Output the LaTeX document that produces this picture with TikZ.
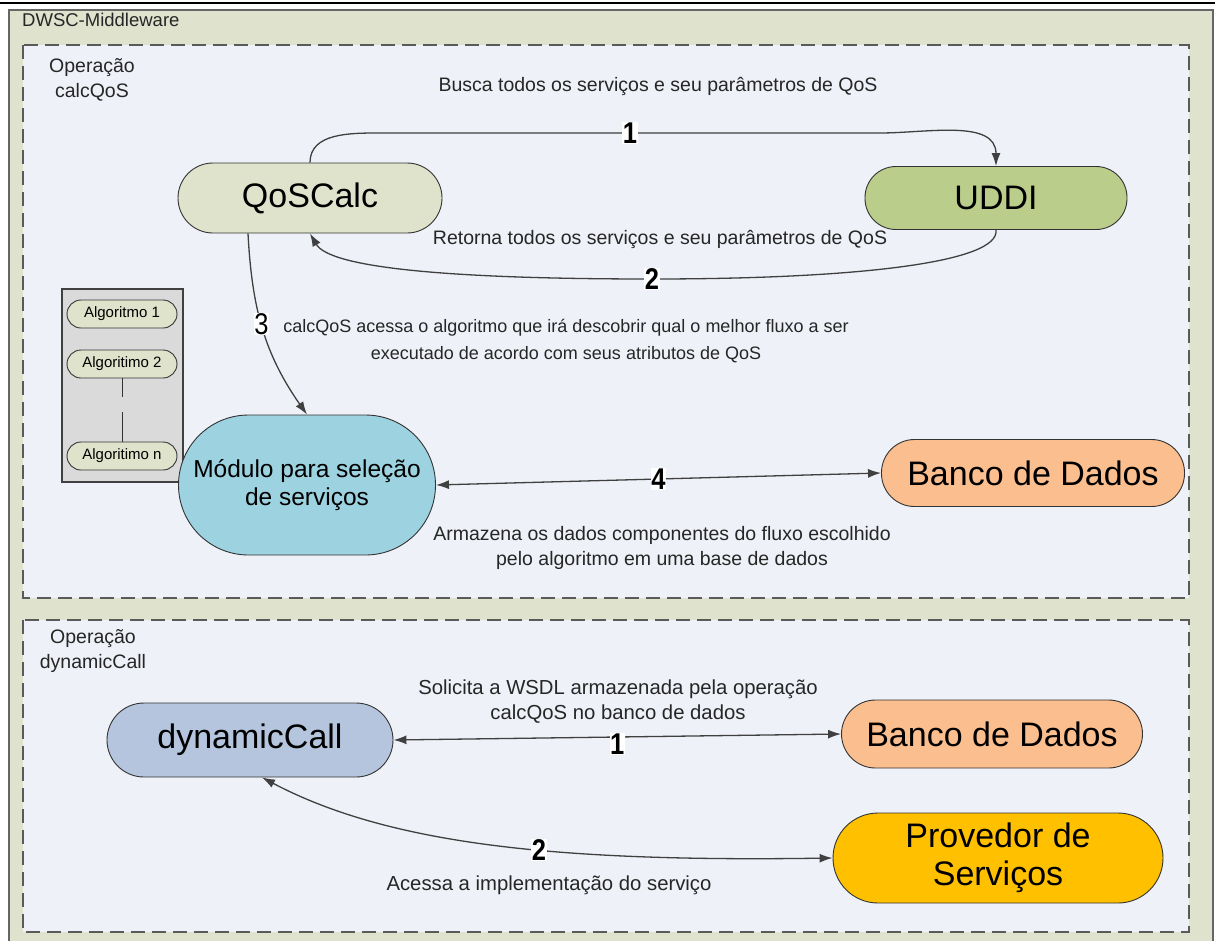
\documentclass[tikz,border=0pt]{standalone}
\usepackage{fontspec}
\setmainfont{Liberation Sans}
\usetikzlibrary{arrows.meta,calc}
\definecolor{outerc}{HTML}{DFE3CE}
\definecolor{innerc}{HTML}{EEF1F7}
\definecolor{qosc}{HTML}{DFE3CB}
\definecolor{uddic}{HTML}{BACD8B}
\definecolor{modc}{HTML}{9DD3E0}
\definecolor{bancoc}{HTML}{FBBE8E}
\definecolor{dync}{HTML}{B4C5DD}
\definecolor{provc}{HTML}{FFC000}
\definecolor{grayc}{HTML}{DADADA}
\definecolor{dashc}{HTML}{5A5A5A}
\newfontfamily\numfont[FakeStretch=0.85]{Liberation Sans}
\begin{document}
\begin{tikzpicture}[x=1pt,y=-1pt,
  pill/.style={draw=black!80, line width=0.9pt, rectangle, rounded corners=#1, inner sep=0pt, align=center},
  pill/.default=30pt,
  bigtxt/.style={font=\fontsize{34}{38}\selectfont},
  smalltxt/.style={font=\fontsize{19.5}{25}\selectfont, text=black!85, align=center, inner sep=0pt},
  dbox/.style={draw=dashc, line width=1.8pt, dash pattern=on 14pt off 7pt, fill=innerc},
  conn/.style={draw=black!75, line width=1.3pt},
  tip/.style={-{Latex[length=13pt,width=9pt]}},
  btip/.style={{Latex[length=13pt,width=9pt]}-{Latex[length=13pt,width=9pt]}},
  num/.style={font=\numfont\bfseries\fontsize{30}{30}\selectfont, fill=white, inner sep=0.5pt},
  numr/.style={font=\numfont\fontsize{30}{30}\selectfont, fill=white, inner sep=0.5pt}
]
\useasboundingbox (0,0) rectangle (1215,940);
\fill[white] (0,0) rectangle (1215,940);
\draw[black, line width=1.2pt] (0,3) -- (1215,3);
\filldraw[fill=outerc, draw=black!60, line width=1.5pt] (9,10) rectangle (1213,946);
\node[anchor=west, font=\fontsize{18.5}{22}\selectfont, text=black!85, inner sep=0pt] (title) at (22,20) {DWSC-Middleware};

% upper box
\draw[dbox] (23,45) rectangle (1189,598);
\node[smalltxt] (op1) at (92,80) {Operação\\calcQoS};
\node[smalltxt] (t1) at (658,86) {Busca todos os serviços e seu parâmetros de QoS};
\node[pill=35pt, fill=qosc, minimum width=264pt, minimum height=70pt, bigtxt] (q) at (310,198) {QoSCalc};
\node[pill=31pt, fill=uddic, minimum width=262pt, minimum height=63pt, bigtxt] (u) at (996,198) {UDDI};
\node[smalltxt] (t2) at (660,239) {Retorna todos os serviços e seu parâmetros de QoS};
\node[smalltxt, font=\fontsize{18}{27}\selectfont] (t3) at (566,341) {calcQoS acessa o algoritmo que irá descobrir qual o melhor fluxo a ser\\executado de acordo com seus atributos de QoS};

% algorithm box
\filldraw[fill=grayc, draw=black!75, line width=1.2pt] (62,289) rectangle (183,482);
\node[pill=14pt, fill=qosc, minimum width=110pt, minimum height=28pt, font=\fontsize{15}{16}\selectfont] (a1) at (122,314) {Algoritmo 1};
\node[pill=14pt, fill=qosc, minimum width=110pt, minimum height=28pt, font=\fontsize{15}{16}\selectfont] (a2) at (122,364) {Algoritimo 2};
\node[pill=14pt, fill=qosc, minimum width=110pt, minimum height=28pt, font=\fontsize{15}{16}\selectfont] (an) at (122,456) {Algoritimo n};
\coordinate (g1) at (122,397);
\coordinate (g2) at (122,412);
\draw[black!80, line width=0.9pt] (a2.south) -- (g1);
\draw[black!80, line width=0.9pt] (g2) -- (an.north);

\node[pill=70pt, fill=modc, minimum width=257pt, minimum height=140pt, font=\fontsize{24.5}{28}\selectfont] (m) at (307,485) {Módulo para seleção\\de serviços};
\node[pill=33pt, fill=bancoc, minimum width=303pt, minimum height=67pt, bigtxt] (b1) at (1033,473) {Banco de Dados};
\node[smalltxt] (t4) at (662,548) {Armazena os dados componentes do fluxo escolhido\\pelo algoritmo em uma base de dados};

% arrows upper
\draw[conn, tip] (q.north) to[out=90, in=180] (380,133) -- node[num] (n1) {1} (880,133) to[out=0, in=90] (u.north);
\draw[conn, tip] (u.south) .. controls (1000,262) and (860,279) .. (652,279) node[num] (n2) {2} .. controls (450,279) and (330,268) .. (q.south);
\draw[conn, tip] ($(q.south)+(-62,0)$) to[out=-87, in=125] node[numr, pos=0.47] (n3) {3} (m.north);
\draw[conn, btip] (m.east) -- node[num] (n4) {4} (b1.west);

% lower box
\draw[dbox] (23,620) rectangle (1189,932);
\node[smalltxt] (op2) at (93,651) {Operação\\dynamicCall};
\node[pill=37pt, fill=dync, minimum width=286pt, minimum height=74pt, bigtxt] (d) at (250,740) {dynamicCall};
\node[pill=34pt, fill=bancoc, minimum width=301pt, minimum height=68pt, bigtxt] (b2) at (992,734) {Banco de Dados};
\node[pill=45pt, fill=provc, minimum width=330pt, minimum height=90pt, bigtxt] (p) at (998,858) {Provedor de\\Serviços};
\node[smalltxt, font=\fontsize{20.3}{25}\selectfont] (t5) at (618,702) {Solicita a WSDL armazenada pela operação\\calcQoS no banco de dados};
\node[smalltxt, font=\fontsize{20.3}{25}\selectfont] (t6) at (549,885) {Acessa a implementação do serviço};

\draw[conn, btip] (d.east) -- node[num, yshift=-7pt] (m1) {1} (b2.west);
\draw[conn, btip] ($(d.south)+(12,0)$) .. controls (390,845) and (560,862) .. node[num, pos=0.58] (m2) {2} (p.west);
\end{tikzpicture}
\end{document}
